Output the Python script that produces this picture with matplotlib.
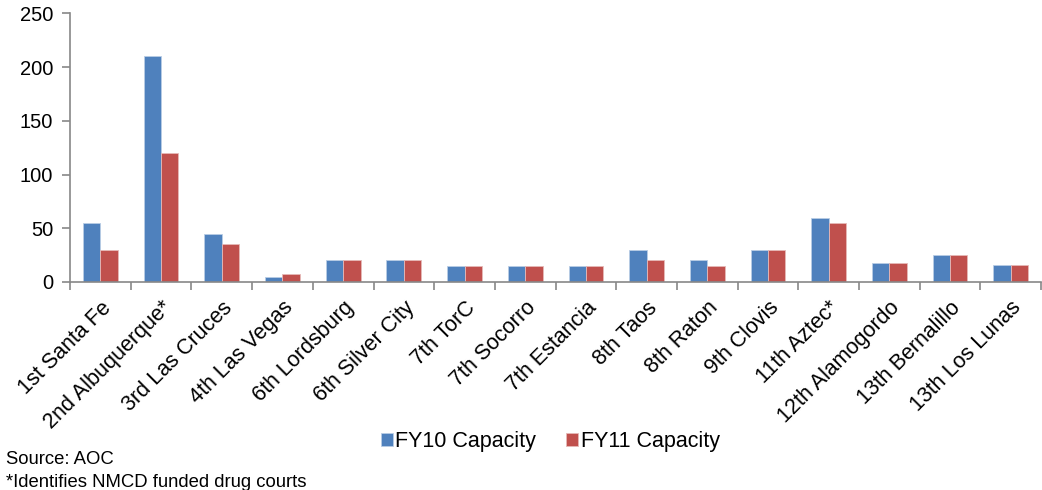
import matplotlib.pyplot as plt
import numpy as np

plt.rcParams['font.family'] = ['Liberation Sans', 'DejaVu Sans']

courts = ['1st Santa Fe', '2nd Albuquerque*', '3rd Las Cruces', '4th Las Vegas',
          '6th Lordsburg', '6th Silver City', '7th TorC', '7th Socorro',
          '7th Estancia', '8th Taos', '8th Raton', '9th Clovis', '11th Aztec*',
          '12th Alamogordo', '13th Bernalillo', '13th Los Lunas']
fy10 = [55, 210, 45, 5, 20, 20, 15, 15, 15, 30, 20, 30, 60, 18, 25, 16]
fy11 = [30, 120, 35, 7, 20, 20, 15, 15, 15, 20, 15, 30, 55, 18, 25, 16]

blue = '#4f81bd'
red = '#c0504d'
grey = '#888888'

fig = plt.figure(figsize=(10.42, 4.9), dpi=100)
ax = fig.add_axes([0.0672, 0.4245, 0.932, 0.5484])

x = np.arange(len(courts))
w = 0.286
ax.bar(x - w / 2, fy10, w, color=blue, edgecolor='#b9cde5', linewidth=0.6, label='FY10 Capacity')
ax.bar(x + w / 2, fy11, w, color=red, edgecolor='#e6b9b8', linewidth=0.6, label='FY11 Capacity')

ax.set_xlim(-0.5, len(courts) - 0.5)
ax.set_ylim(0, 250)
ax.set_yticks(range(0, 251, 50))
ax.tick_params(axis='y', labelsize=14.5, color=grey, length=6, width=1.2, pad=6)

# category ticks sit between the groups, labels at the centres
ax.set_xticks(np.arange(-0.5, len(courts), 1))
ax.set_xticklabels([])
ax.set_xticks(x, minor=True)
ax.set_xticklabels(courts, minor=True, rotation=45, ha='right', rotation_mode='anchor', fontsize=15.5)
ax.tick_params(axis='x', which='major', color=grey, length=6, width=1.2)
ax.tick_params(axis='x', which='minor', length=0, pad=11)

for s in ['top', 'right']:
    ax.spines[s].set_visible(False)
for s in ['left', 'bottom']:
    ax.spines[s].set_color(grey)
    ax.spines[s].set_linewidth(1.2)

fig.legend(loc='center', bbox_to_anchor=(0.528, 0.098), ncol=2, frameon=False, fontsize=15.5,
           handlelength=0.56, handleheight=0.56, handletextpad=0.12, columnspacing=1.4)

fig.text(0.006, 0.053, 'Source: AOC', fontsize=13.3, va='baseline')
fig.text(0.006, 0.006, '*Identifies NMCD funded drug courts', fontsize=13.3, va='baseline')

fig.savefig('out.png', dpi=100)
